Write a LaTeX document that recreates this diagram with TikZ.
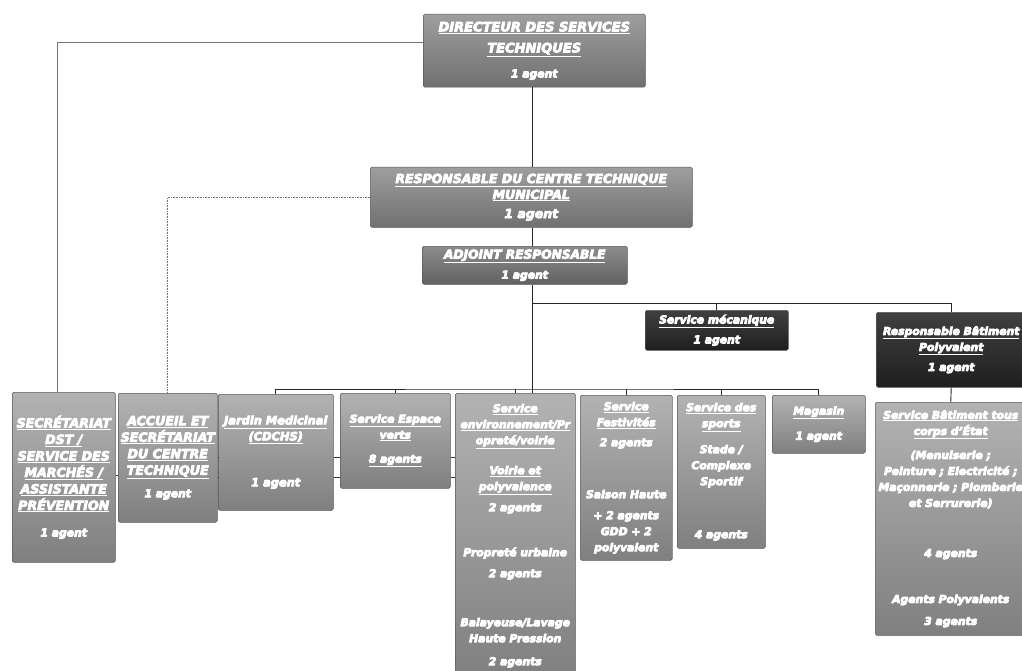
\documentclass[tikz,border=0pt]{standalone}
\usepackage{fontspec}
\setmainfont{DejaVu Sans}
\newcommand\ul[1]{\underline{#1}}
\newcommand\sm{\fontsize{10.8}{16}\selectfont}
\begin{document}
\begin{tikzpicture}[x=1pt,y=-1pt,
  conn/.style={draw=black!85, line width=0.9pt},
  side/.style={draw=black!80, line width=0.8pt},
  grayline/.style={draw=black!55, line width=0.6pt},
  dotline/.style={draw=black!55, line width=0.6pt, densely dotted},
  box/.style={draw=black!65, line width=0.5pt, rounded corners=1.5pt, anchor=north west,
    inner sep=1pt, align=center, text=white,
    font=\bfseries\itshape\fontsize{10.8}{16}\selectfont,
    execute at begin node={\color{white}\special{pdf:literal direct 0 0 0 RG 0.75 w 2 Tr}},
    execute at end node={\special{pdf:literal direct 0 Tr}}},
  lite/.style={box, top color=black!30, bottom color=black!50},
  caps/.style={lite, font=\bfseries\itshape\fontsize{12.6}{16.5}\selectfont},
  top/.style={box, top color=black!38, bottom color=black!56, font=\bfseries\itshape\fontsize{13}{16}\selectfont},
  midd/.style={box, top color=black!45, bottom color=black!62, font=\bfseries\itshape\fontsize{12.2}{16}\selectfont},
  dark/.style={box, top color=black!75, bottom color=black!88}
]
\useasboundingbox (0,0) rectangle (1022,671);
\fill[white] (0,0) rectangle (1022,671);

% top level
\node[top, minimum width=222pt, minimum height=73pt] (dst) at (423,14)
  {\ul{DIRECTEUR DES SERVICES}\\[5pt] \ul{TECHNIQUES}\\[9pt] {\sm 1 agent}};
\node[top, minimum width=322pt, minimum height=60pt, font=\bfseries\itshape\fontsize{12.5}{16}\selectfont] (rctm) at (370,167)
  {\ul{RESPONSABLE DU CENTRE TECHNIQUE}\\ \ul{MUNICIPAL}\\[3pt] 1 agent};
\node[midd, minimum width=205pt, minimum height=38pt] (adj) at (422,246)
  {\ul{ADJOINT RESPONSABLE}\\[4pt] {\sm 1 agent}};
\node[dark, minimum width=143pt, minimum height=40pt] (mec) at (645,310)
  {\ul{Service mécanique}\\[4pt] 1 agent};
\node[dark, minimum width=150pt, minimum height=75pt] (resp) at (876,312)
  {\ul{Responsable Bâtiment}\\ \ul{Polyvalent}\\[4pt] 1 agent};

% bottom row
\node[caps, minimum width=103pt, minimum height=170pt] (sec) at (12,392)
  {\ul{SECRÉTARIAT}\\ \ul{DST /}\\ \ul{SERVICE DES}\\ \ul{MARCHÉS /}\\ \ul{ASSISTANTE}\\ \ul{PRÉVENTION}\\[10pt] {\sm 1 agent}};
\node[caps, minimum width=99pt, minimum height=129pt] (acc) at (118,393)
  {\ul{ACCUEIL ET}\\ \ul{SECRÉTARIAT}\\ \ul{DU CENTRE}\\ \ul{TECHNIQUE}\\[6pt] {\sm 1 agent}};
\node[lite, minimum width=115pt, minimum height=116pt, font=\bfseries\itshape\fontsize{11.4}{16}\selectfont] (jar) at (218,394)
  {\ul{Jardin Medicinal}\\ \ul{(CDCHS)}\\[30pt] 1 agent};
\node[lite, minimum width=110pt, minimum height=95pt] (esp) at (340,393)
  {\ul{Service Espace}\\ \ul{verts}\\[8pt] \ul{8 agents}};
\node[lite, minimum width=120pt, minimum height=285pt] (env) at (455,393)
  {\ul{Service}\\ \ul{environnement/Pr}\\ \ul{opreté/voirie}\\[14pt] \ul{Voirie et}\\ \ul{polyvalence}\\[5pt] 2 agents\\[29pt]
   Propreté urbaine\\[5pt] 2 agents\\[33pt] Balayeuse/Lavage\\ Haute Pression\\[7pt] 2 agents};
\node[lite, minimum width=92pt, minimum height=165pt] (fest) at (580,395)
  {\ul{Service}\\ \ul{Festivités}\\[4pt] 2 agents\\[36pt] Saison Haute\\[5pt] + 2 agents\\ GDD + 2\\ polyvalent};
\node[lite, minimum width=88pt, minimum height=153pt] (spo) at (677,395)
  {\ul{Service des}\\ \ul{sports}\\[10pt] Stade /\\ Complexe\\ Sportif\\[37pt] 4 agents};
\node[lite, minimum width=93pt, minimum height=58pt] (mag) at (772,395)
  {\ul{Magasin}\\[9pt] 1 agent};
\node[lite, minimum width=151pt, minimum height=233pt] (sbat) at (875,402)
  {\ul{Service Bâtiment tous}\\ \ul{corps d'État}\\[8pt] (Menuiserie ;\\ Peinture ; Electricité ;\\ Maçonnerie ; Plomberie\\ et Serrurerie)\\[34pt]
   4 agents\\[30pt] Agents Polyvalents\\[6pt] 3 agents};

% connectors
\coordinate (tx) at (532,0);
\coordinate (sx) at (57,0);
\coordinate (rb) at (532,303);
\coordinate (bb) at (532,389);
\draw[conn] (dst.south -| tx) -- (rctm.north -| tx);
\draw[conn] (rctm.south -| tx) -- (adj.north -| tx);
\draw[conn] (adj.south -| tx) -- (env.north -| tx);
\draw[grayline] ([yshift=8pt]dst.west) -| (sec.north -| sx);
\draw[dotline] (rctm.west) -| (acc.north);
\draw[conn] (rb) -| (resp.north);
\draw[conn] (mec.north) -- (mec.north |- rb);
\draw[conn] (resp.south) -- (sbat.north);
\draw[conn] (jar.north) |- (bb) -| (mag.north);
\draw[conn] (esp.north) -- (esp.north |- bb);
\draw[conn] (env.north) -- (env.north |- bb);
\draw[conn] (fest.north) -- (fest.north |- bb);
\draw[conn] (spo.north) -- (spo.north |- bb);
% side stubs
\draw[side] (sec.east |- 0,475) -- (acc.west |- 0,475);
\draw[side] (acc.east |- 0,457) -- (jar.west |- 0,457);
\draw[side] (acc.east |- 0,477) -- (jar.west |- 0,477);
\draw[side] (jar.east |- 0,457) -- (esp.west |- 0,457);
\draw[side] (jar.east |- 0,477) -- (esp.west |- 0,477);
\draw[side] (esp.east |- 0,457) -- (env.west |- 0,457);
\draw[side] (esp.east |- 0,477) -- (env.west |- 0,477);
\end{tikzpicture}
\end{document}
